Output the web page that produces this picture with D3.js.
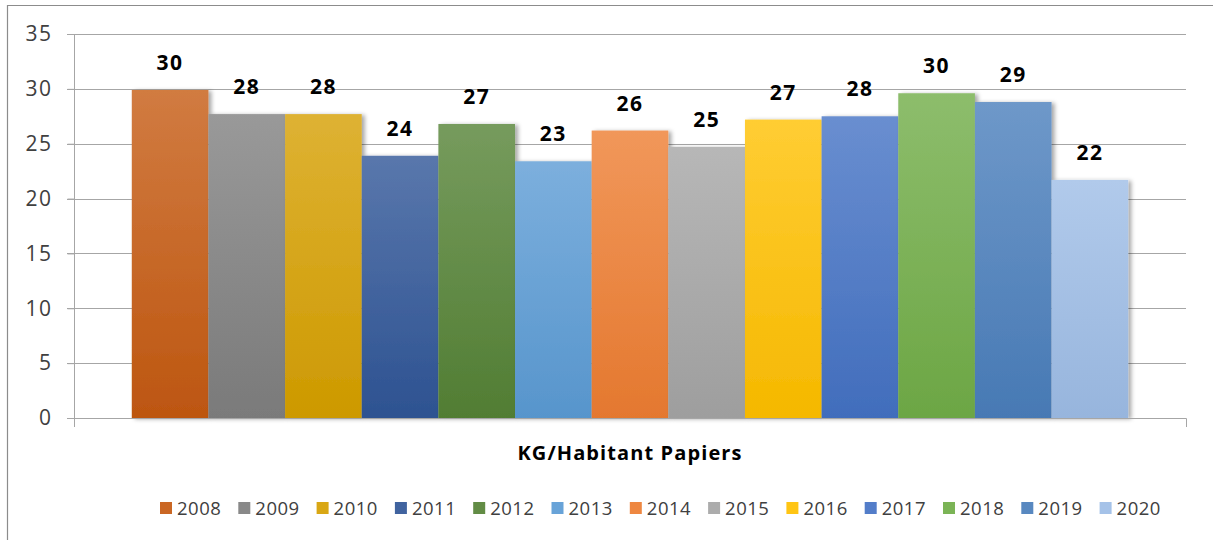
<!DOCTYPE html>
<html><head><meta charset="utf-8">
<script src="https://cdn.jsdelivr.net/npm/d3@7"></script>
<style>body{margin:0;background:#fff}svg{display:block}text{font-family:"Open Sans",Lato,sans-serif}</style>
</head><body>
<svg id="c" width="1213" height="540"></svg>
<script>
const years = ["2008","2009","2010","2011","2012","2013","2014","2015","2016","2017","2018","2019","2020"];
const values = [29.9,27.7,27.7,23.9,26.8,23.4,26.2,24.7,27.2,27.5,29.6,28.8,21.7];
const labels = ["30","28","28","24","27","23","26","25","27","28","30","29","22"];
const colors = ["#c55a11","#7f7f7f","#d69f00","#2f5597","#548235","#5b9bd5","#ed7d31","#a5a5a5","#ffc000","#4472c4","#70ad47","#4a7ebb","#9dbde6"];
const category = ["KG/Habitant Papiers"];
const yTicks = [0,5,10,15,20,25,30,35];

const svg = d3.select("#c");
const defs = svg.append("defs");
const f = defs.append("filter").attr("id","sh").attr("x","-10%").attr("y","-10%").attr("width","130%").attr("height","120%");
f.append("feDropShadow").attr("dx",3).attr("dy",1).attr("stdDeviation",2).attr("flood-color","#000").attr("flood-opacity",0.35);
colors.forEach((c,i)=>{
  const g = defs.append("linearGradient").attr("id","g"+i).attr("x1",0).attr("y1",0).attr("x2",0).attr("y2",1);
  g.append("stop").attr("offset","0%").attr("stop-color",d3.interpolateRgb(c,"#fff")(0.2));
  g.append("stop").attr("offset","100%").attr("stop-color",d3.interpolateRgb(c,"#000")(0.04));
});

// outer frame
svg.append("path").attr("d","M7.5,545V5.5H1220").attr("fill","none").attr("stroke","#8c8c8c").attr("stroke-width",1.2);

const y = d3.scaleLinear().domain([0,35]).range([418,34]);
const x0 = d3.scaleBand().domain(category).range([74,1186]).paddingOuter(0.058);
const x1 = d3.scaleBand().domain(years).range([0,x0.bandwidth()]);

// gridlines
svg.append("g").selectAll("line").data(yTicks.filter(t=>t>0)).join("line")
  .attr("x1",67).attr("x2",1186).attr("y1",d=>Math.round(y(d))+0.5).attr("y2",d=>Math.round(y(d))+0.5)
  .attr("stroke","#a6a6a6").attr("stroke-width",1);

// y axis
const ya = svg.append("g").attr("transform","translate(74.5,0)")
  .call(d3.axisLeft(y).tickValues(yTicks).tickSize(7).tickPadding(15));
ya.select(".domain").attr("d","M-7,"+(y(35)+0.5)+"H0V427").attr("stroke","#a6a6a6");
ya.selectAll(".tick line").attr("stroke","#a6a6a6");
ya.selectAll(".tick text").attr("font-size",21).attr("fill","#404040").attr("font-family","Open Sans")
  .attr("letter-spacing",1.5);

// bars
const bg = svg.append("g");
bg.selectAll("rect").data(years).join("rect")
  .attr("x",(d)=>x0(category[0])+x1(d)).attr("width",x1.bandwidth())
  .attr("y",(d,i)=>y(values[i])).attr("height",(d,i)=>y(0)-y(values[i]))
  .attr("fill",(d,i)=>"url(#g"+i+")").attr("filter","url(#sh)");

// x axis
svg.append("path").attr("d","M67,418.5H1186.5V427").attr("fill","none").attr("stroke","#a6a6a6");

// data labels
svg.append("g").selectAll("text").data(years).join("text")
  .attr("x",d=>x0(category[0])+x1(d)+x1.bandwidth()/2).attr("y",(d,i)=>y(values[i])-20)
  .attr("text-anchor","middle").attr("font-size",21).attr("font-weight",700).attr("fill","#000")
  .attr("letter-spacing",1.5)
  .text((d,i)=>labels[i]);

// category label
svg.append("text").attr("x",x0(category[0])+x0.bandwidth()/2).attr("y",460).attr("text-anchor","middle")
  .attr("font-size",20).attr("font-weight",700).attr("fill","#000").attr("letter-spacing",1.1).text(category[0]);

// legend
const lg = svg.append("g").selectAll("g").data(years).join("g")
  .attr("transform",(d,i)=>`translate(${160+i*78.3},502)`);
lg.append("rect").attr("width",12).attr("height",12).attr("fill",(d,i)=>d3.interpolateRgb(colors[i],"#fff")(0.08));
lg.append("text").attr("x",17).attr("y",13).attr("font-size",18.5).attr("fill","#404040").attr("letter-spacing",0.5).text(d=>d);
</script>
</body></html>
